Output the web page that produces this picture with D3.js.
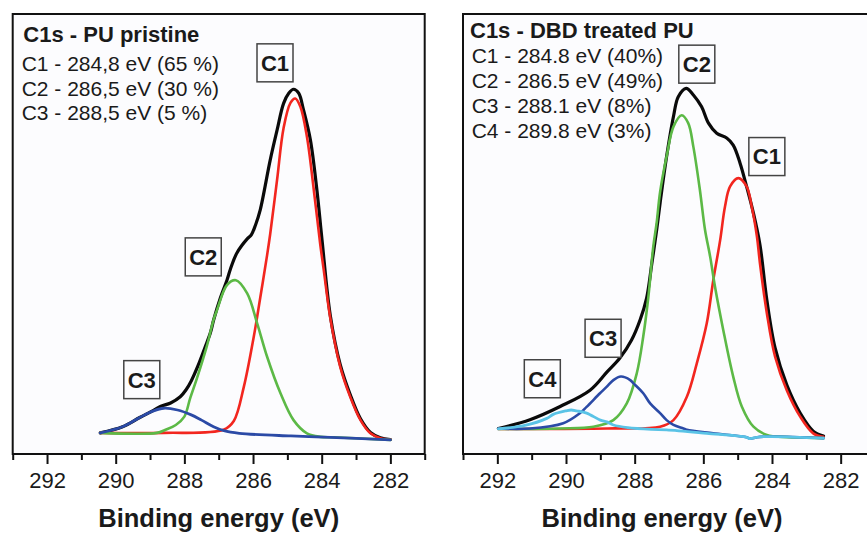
<!DOCTYPE html>
<html>
<head>
<meta charset="utf-8">
<script src="https://cdn.jsdelivr.net/npm/d3@7"></script>
<style>
  body { margin: 0; background: #fff; }
  svg { display: block; }
  text { font-family: "Liberation Sans", Arial, sans-serif; fill: #1a1a1a; }
</style>
</head>
<body>
<div id="chart"></div>
<script>
// ---- data (binding energy eV, intensity a.u.) ----
const majorTicks = [292, 290, 288, 286, 284, 282];
const minorTicks = [293, 291, 289, 287, 285, 283, 281];
const xTitle = 'Binding energy (eV)';

// left: PU pristine
const leftTitle = 'C1s - PU pristine';
const leftLegend = ['C1 - 284,8 eV (65 %)', 'C2 - 286,5 eV (30 %)', 'C3 - 288,5 eV (5 %)'];
const leftEnvelope = [[290.45,4.8],[289.8,6.2],[289.3,8.3],[288.9,9.9],[288.7,10.8],[288.4,11.6],[288.12,13.0],[287.95,14.6],[287.8,16.6],[287.59,20.3],[287.4,24.2],[287.24,27.6],[287.15,30.4],[286.95,35.5],[286.76,39.5],[286.66,42.0],[286.47,45.7],[286.17,48.9],[286.05,49.8],[285.93,52.0],[285.79,55.5],[285.5,66.8],[285.3,73.6],[285.11,79.7],[284.96,82.0],[284.82,82.9],[284.67,82.0],[284.53,78.2],[284.33,71.4],[284.14,60.0],[283.99,48.6],[283.75,31.5],[283.46,20.3],[283.17,13.5],[282.87,8.0],[282.58,4.9],[282.29,3.7],[282.0,3.3]];
const leftC1 = [[290.45,4.8],[288.6,4.8],[286.86,5.5],[286.56,7.5],[286.27,15.2],[285.98,26.6],[285.79,35.5],[285.59,45.2],[285.5,50.0],[285.3,62.3],[285.11,74.1],[284.91,79.8],[284.77,80.8],[284.62,78.9],[284.43,72.1],[284.23,60.0],[284.04,47.5],[283.94,41.8],[283.75,30.9],[283.46,19.8],[283.17,13.0],[282.87,7.7],[282.58,4.7],[282.29,3.6],[282.0,3.3]];
const leftC2 = [[290.45,4.8],[288.8,4.8],[288.55,5.5],[288.25,6.6],[288.0,8.5],[287.83,12.7],[287.63,17.3],[287.35,24.4],[287.15,30.5],[287.05,32.7],[286.76,38.4],[286.5,39.5],[286.17,36.5],[285.88,29.7],[285.59,22.1],[285.2,13.8],[284.82,7.7],[284.43,4.7],[284.03,3.9],[283.65,3.8],[282.0,3.2]];
const leftC3 = [[290.45,4.8],[289.8,6.2],[289.3,8.3],[288.9,9.8],[288.6,10.4],[288.2,10.0],[287.8,8.9],[287.5,7.7],[287.15,6.2],[286.85,5.3],[286.4,4.7],[284.9,4.1],[283.75,3.8],[282.0,3.2]];
const leftLabels = [['C1', 285.36, 88.9], ['C2', 287.45, 44.8], ['C3', 289.24, 16.9]];

// right: DBD treated PU
const rightTitle = 'C1s - DBD treated PU';
const rightLegend = ['C1 - 284.8 eV (40%)', 'C2 - 286.5 eV (49%)', 'C3 - 288.1 eV (8%)', 'C4 - 289.8 eV (3%)'];
const rightEnvelope = [[291.97,5.8],[291.05,7.8],[290.17,10.8],[289.3,14.5],[288.81,18.6],[288.43,21.8],[288.09,25.9],[287.84,30.5],[287.65,35.5],[287.5,43.3],[287.36,50.9],[287.26,57.0],[287.07,67.6],[286.87,76.7],[286.73,81.2],[286.5,83.1],[286.29,81.6],[286.05,78.9],[285.85,75.2],[285.61,72.9],[285.32,71.8],[285.13,70.2],[284.93,66.1],[284.74,60.8],[284.54,54.7],[284.35,47.5],[284.15,35.0],[283.91,24.1],[283.57,15.7],[283.18,9.3],[282.8,5.2],[282.5,4.1]];
const rightC1 = [[291.97,5.7],[288.8,5.8],[287.26,6.2],[286.87,7.7],[286.48,13.0],[286.19,20.6],[285.9,29.7],[285.71,39.5],[285.51,48.6],[285.37,56.2],[285.22,60.8],[284.98,62.7],[284.74,60.8],[284.59,56.2],[284.44,49.5],[284.35,43.3],[284.15,32.0],[283.91,22.1],[283.57,14.5],[283.18,8.5],[282.8,4.7],[282.5,3.9]];
const rightC2 = [[291.97,5.7],[290.17,5.8],[289.2,6.2],[288.62,7.7],[288.23,11.5],[287.94,18.3],[287.75,26.7],[287.6,35.8],[287.46,47.0],[287.36,52.5],[287.26,59.5],[287.07,67.6],[286.87,74.4],[286.63,77.0],[286.44,75.2],[286.29,69.8],[286.1,60.0],[285.95,50.9],[285.8,44.8],[285.66,38.0],[285.42,28.2],[285.13,17.6],[284.88,10.8],[284.54,6.2],[284.15,4.3],[283.9,4.0],[282.5,3.6]];
const rightC3 = [[291.97,5.8],[291.05,5.8],[290.08,7.0],[289.59,9.3],[289.4,10.7],[289.01,13.8],[288.81,15.3],[288.62,16.8],[288.4,17.6],[288.13,16.8],[288.04,16.1],[287.75,13.8],[287.55,11.5],[287.26,9.3],[287.07,7.7],[286.87,6.6],[286.58,5.8],[286.48,5.5],[285.71,4.7],[284.74,3.8],[284.65,3.5],[284.35,3.9],[282.5,3.6]];
const rightC4 = [[291.97,5.7],[291.2,6.5],[290.56,8.1],[290.37,9.0],[290.0,9.8],[289.85,10.0],[289.69,9.8],[289.4,9.3],[289.0,7.7],[288.81,7.3],[288.62,6.6],[288.2,6.0],[287.5,5.6],[287.07,5.5],[285.9,4.7],[284.74,3.8],[284.65,3.5],[284.35,3.9],[282.5,3.6]];
const rightLabels = [['C2', 286.19, 88.6], ['C1', 284.15, 67.6], ['C3', 288.92, 26.3], ['C4', 290.69, 17.1]];

const COLORS = { env: '#0a0a0a', c1: '#f2261f', c2: '#5cb946', c3: '#2b4aa6', c4: '#5ac3e6' };

const panels = [
  { left: 12.7, titleX: 10.6, titleY: 41.7, legendX: 9, legendY: [71, 95.5, 120], axisTitleX: 206,
    title: leftTitle, legend: leftLegend, labels: leftLabels,
    series: [[leftEnvelope, COLORS.env, 3.2], [leftC1, COLORS.c1, 2.6], [leftC2, COLORS.c2, 2.6], [leftC3, COLORS.c3, 2.8]] },
  { left: 463, titleX: 7, titleY: 38.3, legendX: 8.7, legendY: [63.3, 88.3, 113.3, 138.3], axisTitleX: 199,
    title: rightTitle, legend: rightLegend, labels: rightLabels,
    series: [[rightEnvelope, COLORS.env, 3.2], [rightC1, COLORS.c1, 2.6], [rightC2, COLORS.c2, 2.6], [rightC3, COLORS.c3, 2.6], [rightC4, COLORS.c4, 2.8]] }
];

const W = 867, H = 533;
const PW = 412, TOP = 14, BOTTOM = 454;

const svg = d3.select('#chart').append('svg')
  .attr('width', W)
  .attr('height', H);

const y = d3.scaleLinear().domain([0, 100]).range([BOTTOM, TOP]);

panels.forEach(p => {
  const x = d3.scaleLinear().domain([293, 281]).range([p.left, p.left + PW]);
  const g = svg.append('g');

  g.append('rect')
    .attr('x', p.left).attr('y', TOP)
    .attr('width', PW).attr('height', BOTTOM - TOP)
    .attr('fill', '#fcfcfe');

  // ticks point outward below the frame, long at even eV
  const major = g.append('g').attr('transform', `translate(0,${BOTTOM})`)
    .call(d3.axisBottom(x).tickValues(majorTicks).tickSize(10).tickFormat(d3.format('d')));
  const minor = g.append('g').attr('transform', `translate(0,${BOTTOM})`)
    .call(d3.axisBottom(x).tickValues(minorTicks).tickSize(6).tickFormat(''));
  [major, minor].forEach(a => {
    a.select('.domain').remove();
    a.selectAll('line').attr('stroke', '#111').attr('stroke-width', 2);
  });
  major.selectAll('text')
    .attr('y', 34).attr('dy', 0)
    .attr('fill', '#1a1a1a')
    .style('font-size', '22px')
    .style('font-family', '"Liberation Sans", Arial, sans-serif');

  const line = d3.line()
    .x(d => x(d[0]))
    .y(d => y(d[1]))
    .curve(d3.curveCatmullRom.alpha(0.5));

  p.series.forEach(([data, color, w]) => {
    g.append('path')
      .attr('d', line(data))
      .attr('fill', 'none')
      .attr('stroke', color)
      .attr('stroke-width', w)
      .attr('stroke-linejoin', 'round')
      .attr('stroke-linecap', 'round');
  });

  // frame on top of everything
  g.append('rect')
    .attr('x', p.left).attr('y', TOP)
    .attr('width', PW).attr('height', BOTTOM - TOP)
    .attr('fill', 'none')
    .attr('stroke', '#111')
    .attr('stroke-width', 2);

  g.append('text')
    .attr('x', p.left + p.titleX).attr('y', p.titleY)
    .style('font-size', '22px').style('font-weight', 'bold')
    .text(p.title);

  g.selectAll('.leg')
    .data(p.legend)
    .join('text')
    .attr('x', p.left + p.legendX)
    .attr('y', (d, i) => p.legendY[i])
    .style('font-size', '21px')
    .text(d => d);

  const boxes = g.selectAll('.lbl')
    .data(p.labels)
    .join('g')
    .attr('transform', d => `translate(${x(d[1])},${y(d[2])})`);
  boxes.append('rect')
    .attr('x', -18).attr('y', -19)
    .attr('width', 36).attr('height', 38)
    .attr('fill', '#fcfcfe')
    .attr('stroke', '#444')
    .attr('stroke-width', 1.5);
  boxes.append('text')
    .attr('text-anchor', 'middle')
    .attr('dy', '0.36em')
    .style('font-size', '22px').style('font-weight', 'bold')
    .text(d => d[0]);

  // descenders of g/y must stay inside the 533px frame
  g.append('text')
    .attr('x', p.left + p.axisTitleX).attr('y', 526.5)
    .attr('text-anchor', 'middle')
    .style('font-size', '25.5px').style('font-weight', 'bold')
    .text(xTitle);
});
</script>
</body>
</html>
